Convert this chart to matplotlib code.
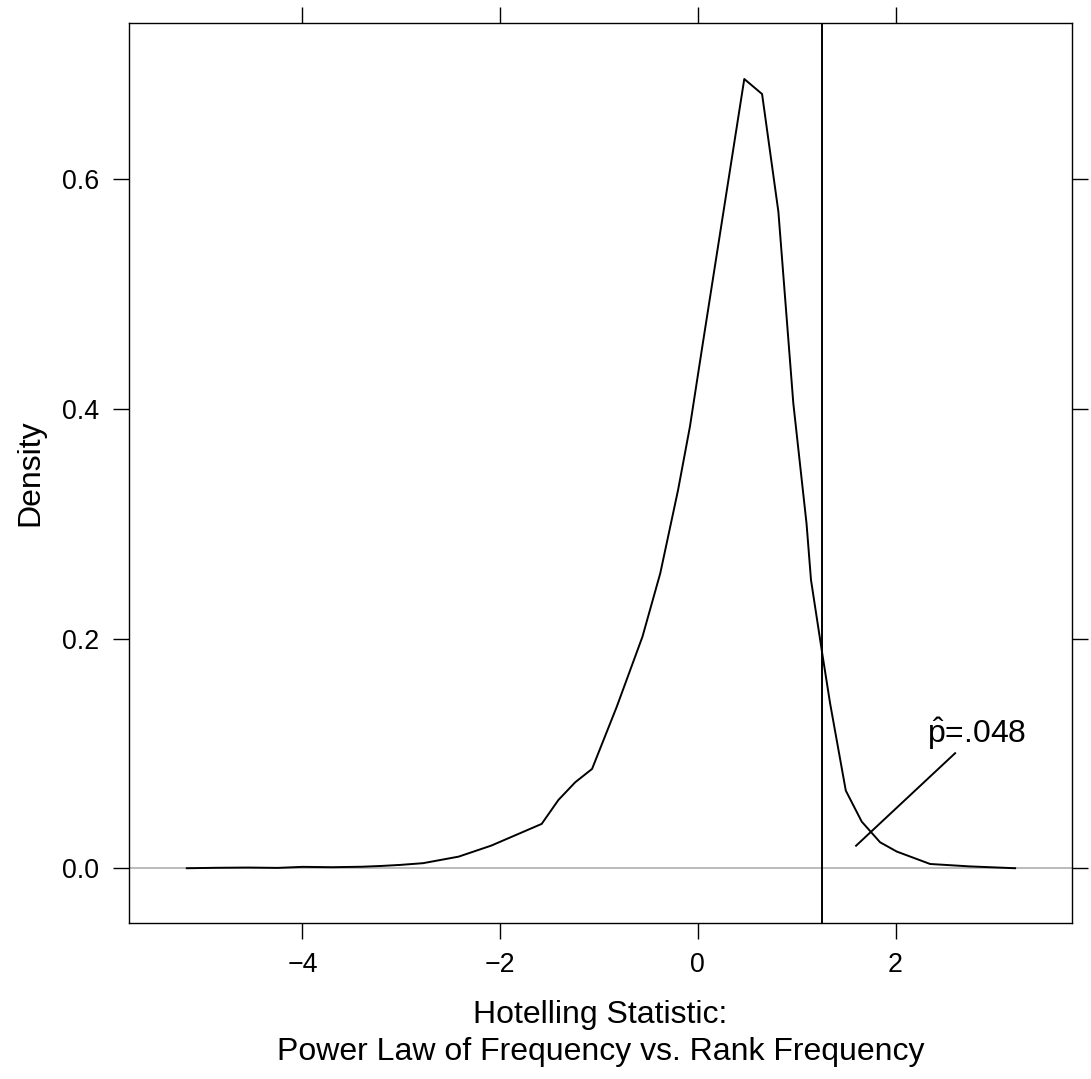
import matplotlib
matplotlib.use('Agg')
import matplotlib.pyplot as plt

plt.rcParams['font.family'] = ['Liberation Sans', 'DejaVu Sans']
plt.rcParams['mathtext.fontset'] = 'custom'
plt.rcParams['mathtext.rm'] = 'Liberation Sans'
plt.rcParams['mathtext.it'] = 'Liberation Sans:italic'

# density curve vertices
dens_x = [-5.17, -4.85, -4.55, -4.25, -4.0, -3.7, -3.4, -3.2, -3.01, -2.78,
          -2.42, -2.09, -1.58, -1.41, -1.24, -1.07, -0.82, -0.56, -0.38,
          -0.20, -0.08, 0.04, 0.47, 0.65, 0.815, 0.966, 1.10, 1.145, 1.257,
          1.338, 1.497, 1.658, 1.844, 2.013, 2.35, 2.75, 3.21]
dens_y = [0.0, 0.0004, 0.0006, 0.0003, 0.0012, 0.0009, 0.0013, 0.0020, 0.0029, 0.0044,
          0.0101, 0.0197, 0.0386, 0.0595, 0.0749, 0.0865, 0.1407, 0.2017, 0.2569,
          0.3294, 0.3846, 0.4514, 0.6874, 0.6743, 0.5718, 0.405, 0.300, 0.251, 0.188,
          0.1437, 0.0676, 0.0406, 0.0226, 0.0145, 0.0037, 0.0016, 0.0]

observed = 1.261
pointer_x = [1.601, 2.603]
pointer_y = [0.0196, 0.1002]
label_x, label_y = 2.316, 0.1094
p_text = r'$\hat{\mathrm{p}}$=.048'

xticks = [-4, -2, 0, 2]
yticks = [0.0, 0.2, 0.4, 0.6]
ytick_labels = ['0.0', '0.2', '0.4', '0.6']

fig = plt.figure(figsize=(10.91, 10.79), dpi=100)
ax = fig.add_axes([0.1185, 0.1449, 0.8644, 0.8335])

ax.axhline(0, color='#BBBBBB', lw=1.4, zorder=1)
ax.plot(dens_x, dens_y, color='black', lw=1.4, zorder=2)
ax.axvline(observed, color='black', lw=1.4, zorder=2)
ax.plot(pointer_x, pointer_y, color='black', lw=1.4, zorder=2)
ax.text(label_x, label_y, p_text, fontsize=23, ha='left', va='baseline')

ax.set_xlim(-5.752, 3.789)
ax.set_ylim(-0.0474, 0.7359)
ax.set_xticks(xticks)
ax.set_yticks(yticks)
ax.set_yticklabels(ytick_labels)
ax.tick_params(direction='out', length=11.5, width=1.0, labelsize=19.3,
               top=True, right=True, labeltop=False, labelright=False)
ax.tick_params(axis='x', pad=9.5)
ax.tick_params(axis='y', pad=10)
for s in ax.spines.values():
    s.set_linewidth(1.0)

fig.text(30 / 1091, 1 - 473 / 1079, 'Density', rotation=90, fontsize=23,
         ha='center', va='center')
fig.text(600.5 / 1091, 1 - 1023 / 1079, 'Hotelling Statistic:', fontsize=23,
         ha='center', va='baseline')
fig.text(600.5 / 1091, 1 - 1060 / 1079, 'Power Law of Frequency vs. Rank Frequency',
         fontsize=23, ha='center', va='baseline')

fig.savefig('out.png', dpi=100)
